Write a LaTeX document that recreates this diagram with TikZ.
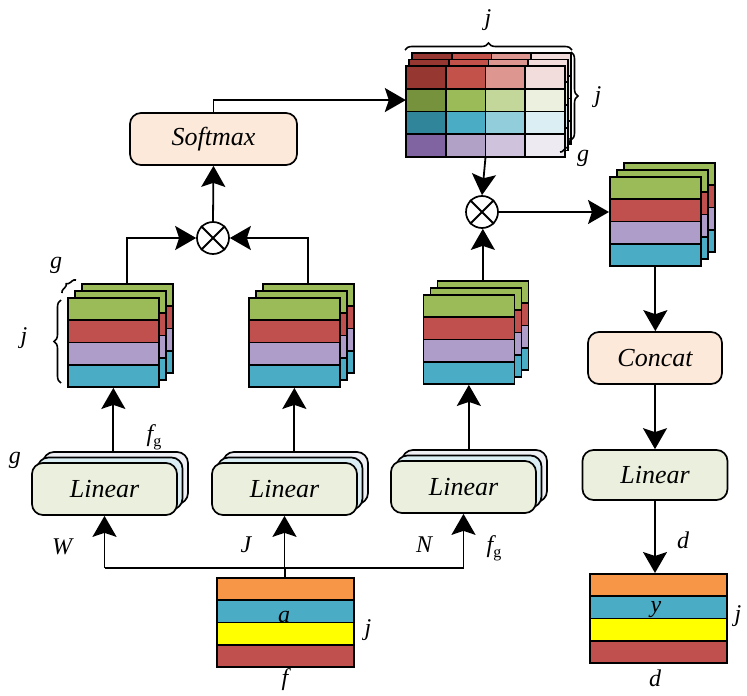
\documentclass[tikz,border=0pt]{standalone}
\usepackage{fontspec}
\setmainfont{Liberation Serif}
\usetikzlibrary{matrix,arrows.meta,decorations.pathreplacing}

\definecolor{cgreen}{RGB}{155,187,89}
\definecolor{cred}{RGB}{192,80,77}
\definecolor{cpurple}{RGB}{174,157,200}
\definecolor{ccyan}{RGB}{75,172,198}
\definecolor{corange}{RGB}{247,150,70}
\definecolor{cyellow}{RGB}{255,255,0}
\definecolor{peach}{RGB}{252,233,218}
\definecolor{lingreen}{RGB}{235,240,222}
\definecolor{linblue}{RGB}{218,238,243}
\definecolor{linback}{RGB}{238,238,245}
% attention grid shades
\definecolor{r1}{RGB}{150,55,50}\definecolor{r2}{RGB}{195,82,75}
\definecolor{r3}{RGB}{222,150,145}\definecolor{r4}{RGB}{243,220,220}
\definecolor{g1}{RGB}{118,146,60}\definecolor{g2}{RGB}{155,187,89}
\definecolor{g3}{RGB}{196,215,155}\definecolor{g4}{RGB}{235,241,222}
\definecolor{b1}{RGB}{49,133,155}\definecolor{b2}{RGB}{75,172,198}
\definecolor{b3}{RGB}{146,205,220}\definecolor{b4}{RGB}{218,238,243}
\definecolor{p1}{RGB}{128,100,162}\definecolor{p2}{RGB}{178,161,199}
\definecolor{p3}{RGB}{206,194,220}\definecolor{p4}{RGB}{237,234,242}

\newcommand\boxfont{\fontsize{26}{30}\selectfont\itshape}
\newcommand\labfont{\fontsize{24}{28}\selectfont\itshape}
\newcommand\fsub{f\raisebox{-5pt}{\fontsize{16}{16}\selectfont\upshape g}}

\tikzset{
  arr/.style={-{Stealth[length=21pt,width=24pt,inset=4pt]},line width=1.8pt},
  wire/.style={line width=1.8pt},
  stripe/.style={rectangle,draw,line width=1.7pt,inner sep=0pt,outer sep=0pt,minimum height=22.3pt},
  featmat/.style={matrix of nodes,anchor=north west,inner sep=0pt,outer sep=0pt,row sep=-1.7pt,
    nodes={stripe,minimum width=91pt},
    row 1/.style={nodes={fill=cgreen}},row 2/.style={nodes={fill=cred}},
    row 3/.style={nodes={fill=cpurple}},row 4/.style={nodes={fill=ccyan}}},
  inmat/.style={featmat,nodes={stripe,minimum width=137pt},
    row 1/.style={nodes={fill=corange}},row 2/.style={nodes={fill=ccyan}},
    row 3/.style={nodes={fill=cyellow}},row 4/.style={nodes={fill=cred}}},
  gridmat/.style={matrix of nodes,anchor=north west,inner sep=0pt,outer sep=0pt,
    row sep=-1.7pt,column sep=-1.7pt,ampersand replacement=\&,
    nodes={stripe,minimum width=39.8pt,minimum height=22.8pt}},
  linbox/.style={draw,line width=1.7pt,rounded corners=11pt,minimum width=145pt,
    minimum height=52pt,font=\boxfont},
  opbox/.style={linbox,fill=peach},
  otimes/.style={circle,draw,line width=1.7pt,minimum size=32pt,inner sep=0pt,fill=white},
  brace/.style={decorate,decoration={brace,amplitude=7pt},line width=1.6pt},
  lab/.style={font=\labfont,inner sep=0pt},
}

\newcommand\featstack[3]{%
  \foreach \k in {2,1}{%
    \matrix[featmat] (#1\k) at (#2+7*\k,#3-7*\k) {\mbox{}\\ \mbox{}\\ \mbox{}\\ \mbox{}\\};
  }
  \matrix[featmat] (#1) at (#2,#3) {\mbox{}\\ \mbox{}\\ \mbox{}\\ \mbox{}\\};
}
\newcommand\linstack[3]{%
  \node[linbox,fill=linback] (#1b2) at (#2+11,#3-11) {};
  \node[linbox,fill=linblue] (#1b1) at (#2+5.5,#3-5.5) {};
  \node[linbox,fill=lingreen] (#1) at (#2,#3) {Linear};
}

\begin{document}
\begin{tikzpicture}[x=1pt,y=-1pt]
\useasboundingbox (0,0) rectangle (747,696);

% input and output
\matrix[inmat] (in) at (216,577) {\mbox{}\\ \mbox{}\\ \mbox{}\\ \mbox{}\\};
\matrix[inmat] (out) at (589,573) {\mbox{}\\ \mbox{}\\ \mbox{}\\ \mbox{}\\};

% linear layers
\linstack{L1}{104.5}{489}
\linstack{L2}{284.5}{489}
\linstack{L3}{463.5}{487}

% feature stacks
\featstack{SL}{67}{297}
\featstack{SM}{248}{297}
\featstack{SR}{422.5}{294}
\featstack{SC}{609}{176}

% attention grid
\foreach \k in {2,1}{%
  \matrix[gridmat] (G\k) at (405+3*\k,65-6.5*\k) {
    |[fill=r1]|\mbox{} \& |[fill=r2]|\mbox{} \& |[fill=r3]|\mbox{} \& |[fill=r4]|\mbox{} \\
    |[fill=g1]|\mbox{} \& |[fill=g2]|\mbox{} \& |[fill=g3]|\mbox{} \& |[fill=g4]|\mbox{} \\
    |[fill=b1]|\mbox{} \& |[fill=b2]|\mbox{} \& |[fill=b3]|\mbox{} \& |[fill=b4]|\mbox{} \\
    |[fill=p1]|\mbox{} \& |[fill=p2]|\mbox{} \& |[fill=p3]|\mbox{} \& |[fill=p4]|\mbox{} \\
  };
}
\matrix[gridmat] (G) at (405,65) {
  |[fill=r1]|\mbox{} \& |[fill=r2]|\mbox{} \& |[fill=r3]|\mbox{} \& |[fill=r4]|\mbox{} \\
  |[fill=g1]|\mbox{} \& |[fill=g2]|\mbox{} \& |[fill=g3]|\mbox{} \& |[fill=g4]|\mbox{} \\
  |[fill=b1]|\mbox{} \& |[fill=b2]|\mbox{} \& |[fill=b3]|\mbox{} \& |[fill=b4]|\mbox{} \\
  |[fill=p1]|\mbox{} \& |[fill=p2]|\mbox{} \& |[fill=p3]|\mbox{} \& |[fill=p4]|\mbox{} \\
};

% operators
\node[opbox,minimum width=167pt] (softmax) at (213.5,139) {Softmax};
\node[opbox,minimum width=134pt] (concat) at (655,358) {Concat};
\node[linbox,fill=lingreen,minimum width=145pt,minimum height=50pt] (L4) at (655,475) {Linear};
\node[otimes] (m1) at (213,238) {};
\node[otimes] (m2) at (482,212) {};
\draw[wire] (m1.north west) -- (m1.south east) (m1.north east) -- (m1.south west);
\draw[wire] (m2.north west) -- (m2.south east) (m2.north east) -- (m2.south west);

% connectors
\draw[wire] (in.north) -- ++(0,-9) coordinate (bus);
\draw[wire] (bus -| L1.south) -- (bus -| L3.south);
\draw[arr] (bus -| L1.south) -- (L1.south);
\draw[arr] (bus -| L2.south) -- (L2.south);
\draw[arr] (bus -| L3.south) -- (L3.south);
\draw[arr] (L1b2.north -| SL.south) -- (SL.south);
\draw[arr] (L2b2.north -| SM.south) -- (SM.south);
\draw[arr] (L3b2.north -| SR.south) -- (SR.south);
\draw[arr] (SL2.north) |- (m1.west);
\draw[arr] (SM2.north) |- (m1.east);
\draw[arr] (m1.north) -- (softmax.south);
\draw[arr] (softmax.north) |- (G-2-1.west);
\draw[arr] (G.south) -- (m2.north);
\draw[arr] (SR2.north) -- (SR2.north |- m2.south);
\draw[arr] (m2.east) -- (m2 -| SC.west);
\draw[arr] (SC.south) -- (SC.south |- concat.north);
\draw[arr] (concat.south) -- (L4.north);
\draw[arr] (L4.south) -- (L4.south |- out.north);

% braces
\draw[brace] (61,383) -- (61,300);
\draw[brace,decoration={amplitude=4pt}] (62,293) -- (76,280);
\draw[brace] (405,50) -- (572,50);
\draw[brace] (571,52) -- (571,140);
\draw[brace,decoration={amplitude=4pt}] (570,138) -- (560,152);

% labels
\node[lab] (jl) at (24,338) {j};
\node[lab] (gl) at (56,265) {g};
\node[lab] (fg1) at (154,437) {\fsub};
\node[lab] (gl2) at (15,460) {g};
\node[lab] (lW) at (62,547) {W};
\node[lab] (lJ) at (246,545) {J};
\node[lab] (lN) at (424,545) {N};
\node[lab] (fg2) at (494,548) {\fsub};
\node[lab] (la) at (284,617) {a};
\node[lab] (lja) at (368,630) {j};
\node[lab] (lf) at (285,680) {f};
\node[lab] (ly) at (656,610) {y};
\node[lab] (ljy) at (738,616) {j};
\node[lab] (ld) at (655,678) {d};
\node[lab] (ld2) at (683,540) {d};
\node[lab] (ljt) at (488,20) {j};
\node[lab] (ljr) at (598,97) {j};
\node[lab] (lgr) at (583,158) {g};
\end{tikzpicture}
\end{document}
